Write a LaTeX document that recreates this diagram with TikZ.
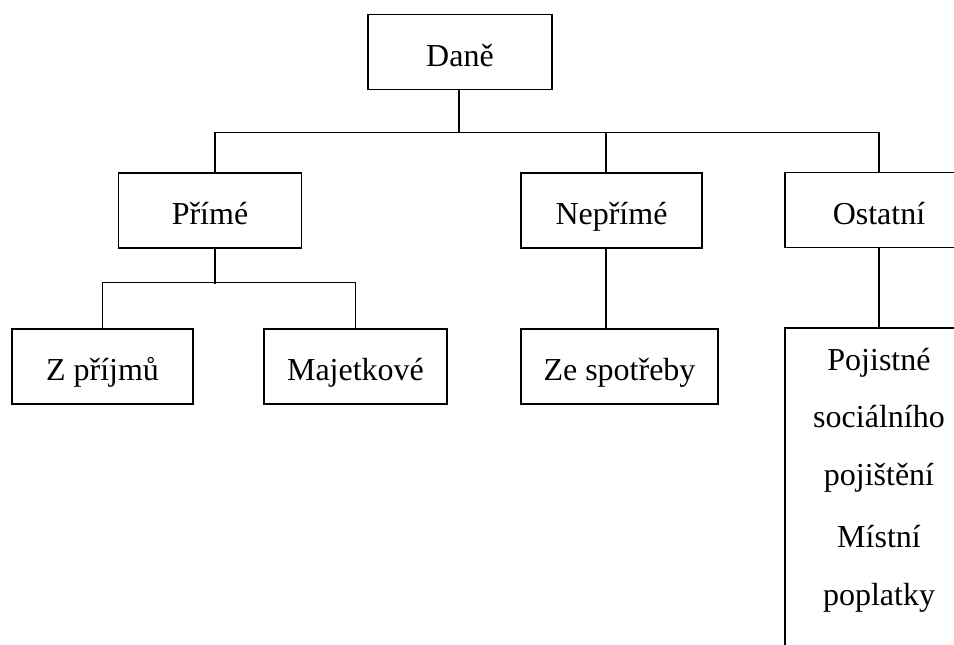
\documentclass[tikz,border=0pt]{standalone}
\usepackage{fontspec}
\setmainfont{Liberation Serif}
\usepackage{tikz}

\begin{document}
\begin{tikzpicture}[x=0.5pt, y=-0.5pt]

    % Custom styles for boxes and links
    \tikzstyle{box} = [draw, line width=0.75pt, inner sep=0pt, minimum height=37.5pt,
                       text height=16pt, text depth=2pt,
                       font=\fontsize{16}{19}\selectfont]
    \tikzstyle{link} = [line width=0.75pt]

    \useasboundingbox (0,0) rectangle (954,644);
    \clip (0,0) rectangle (954,644);

    % Define nodes
    \node[box, minimum width=92pt] (dane) at (460,52) {Daně};
    \node[box, minimum width=91.5pt] (prime) at (210,210.5) {Přímé};
    \node[box, minimum width=90.5pt] (neprime) at (611.5,210.5) {Nepřímé};
    \node[box, minimum width=94pt] (ostatni) at (879,210) {Ostatní};
    \node[box, minimum width=90.5pt] (zprijmu) at (102.5,366.5) {Z příjmů};
    \node[box, minimum width=91.5pt] (majetkove) at (355.5,366.5) {Majetkové};
    \node[box, minimum width=98.5pt] (zespotreby) at (619.5,366.5) {Ze spotřeby};
    \node[box, minimum width=94pt, anchor=north, inner ysep=10pt,
          text height=, text depth=] (pojisteni) at (879,327)
        {\begin{minipage}[t][170pt][t]{90pt}\centering
         \fontsize{16}{28.75}\selectfont
         Pojistné\\sociálního\\pojištění\par\vspace{2.5pt}
         Místní\\poplatky
         \end{minipage}};

    % Connect nodes
    \draw[link] ([xshift=-0.5pt]dane.south) -- ++(0,43);
    \draw[link] ([xshift=2.5pt]prime.north) -- ++(0,-40) -| (ostatni.north);
    \draw[link] ([xshift=-2.75pt]neprime.north) -- ++(0,-40);
    \draw[link] ([xshift=2.5pt]prime.south) -- ++(0,35);
    \draw[link] (zprijmu.north) -- ++(0,-46) -| (majetkove.north);
    \draw[link] ([xshift=-2.75pt]neprime.south) -- ([xshift=-2.75pt]neprime.south |- zespotreby.north);
    \draw[link] (ostatni.south) -- (pojisteni.north);

\end{tikzpicture}
\end{document}
